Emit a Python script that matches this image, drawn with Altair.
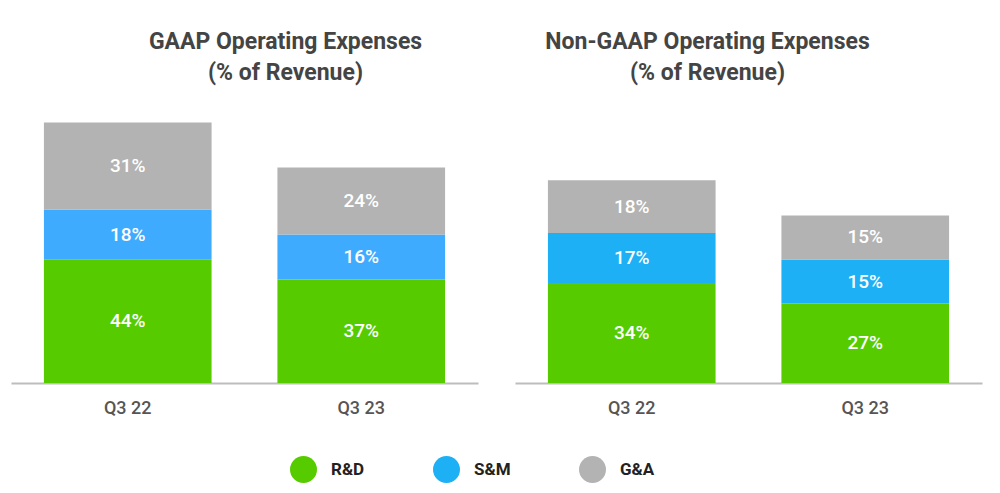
import altair as alt
import pandas as pd

quarters = ["Q3 22", "Q3 23"]
categories = ["R&D", "S&M", "G&A"]
gaap_rd = [44, 37]
gaap_sm = [18, 16]
gaap_ga = [31, 24]
nongaap_rd = [34, 27]
nongaap_sm = [17, 15]
nongaap_ga = [18, 15]

colors = ["#56CC00", "#1DB0F5", "#B3B3B3"]
left_sm_color = "#3FABFF"


def make_df(rd, sm, ga):
    rows = []
    for i, q in enumerate(quarters):
        for j, (c, v) in enumerate(zip(categories, [rd[i], sm[i], ga[i]])):
            rows.append({"quarter": q, "cat": c, "order": j, "value": v})
    return pd.DataFrame(rows)


FONT = "Roboto"
H = 283

LEGEND = dict(
    title=None, orient="none", legendX=279, legendY=356, direction="horizontal",
    columns=3, symbolType="circle", symbolSize=729, symbolStrokeWidth=0,
    labelFont=FONT, labelFontSize=17, labelFontWeight="bold", labelColor="#222222",
    labelOffset=14, columnPadding=68,
)


def panel(df, title, ymax, dx, sm_override=None):
    base = alt.Chart(df).transform_stack(
        stack="value", as_=["y0", "y1"], groupby=["quarter"], sort=[{"field": "order"}]
    ).transform_calculate(mid="(datum.y0 + datum.y1) / 2", lab="datum.value + '%'")
    x = alt.X(
        "quarter:N",
        sort=quarters,
        scale=alt.Scale(paddingInner=0.282, paddingOuter=0.141),
        axis=alt.Axis(
            title=None, labelAngle=0, ticks=False, domainColor="#BDBDBD", domainWidth=2,
            labelFont=FONT, labelFontSize=18, labelFontWeight=500, labelColor="#555555",
            labelPadding=16, grid=False,
        ),
    )
    y = alt.Y("y0:Q", scale=alt.Scale(domain=[0, ymax], nice=False), axis=None)
    color = {
        "field": "cat", "type": "nominal", "sort": categories,
        "scale": {"domain": categories, "range": colors},
        "legend": LEGEND,
    }
    if sm_override:
        color["condition"] = {"test": "datum.cat === 'S&M'", "value": sm_override}
    bars = base.mark_bar().encode(x=x, y=y, y2="y1:Q", color=color)
    text = base.mark_text(
        color="white", font=FONT, fontSize=19, fontWeight=500, baseline="middle"
    ).encode(x=x, y=alt.Y("mid:Q", scale=alt.Scale(domain=[0, ymax], nice=False), axis=None), text="lab:N")
    return alt.layer(bars, text).properties(
        width=467, height=H,
        title=alt.TitleParams(
            text=title, font=FONT, fontSize=23, fontWeight="bold", color="#444444",
            anchor="middle", dx=dx, lineHeight=31, offset=15,
        ),
    )


left = panel(make_df(gaap_rd, gaap_sm, gaap_ga), ["GAAP Operating Expenses", "(% of Revenue)"], 283 / 2.80, 41, left_sm_color)
right = panel(make_df(nongaap_rd, nongaap_sm, nongaap_ga), ["Non-GAAP Operating Expenses", "(% of Revenue)"], 283 / 2.94, -41)

chart = alt.hconcat(left, right, spacing=37).resolve_scale(y="independent").properties(
    padding={"left": 3, "top": 23, "right": 5, "bottom": 5},
    background="white",
).configure_view(strokeWidth=0)

chart.save("out.html", embed_options={"renderer": "svg", "actions": False})
